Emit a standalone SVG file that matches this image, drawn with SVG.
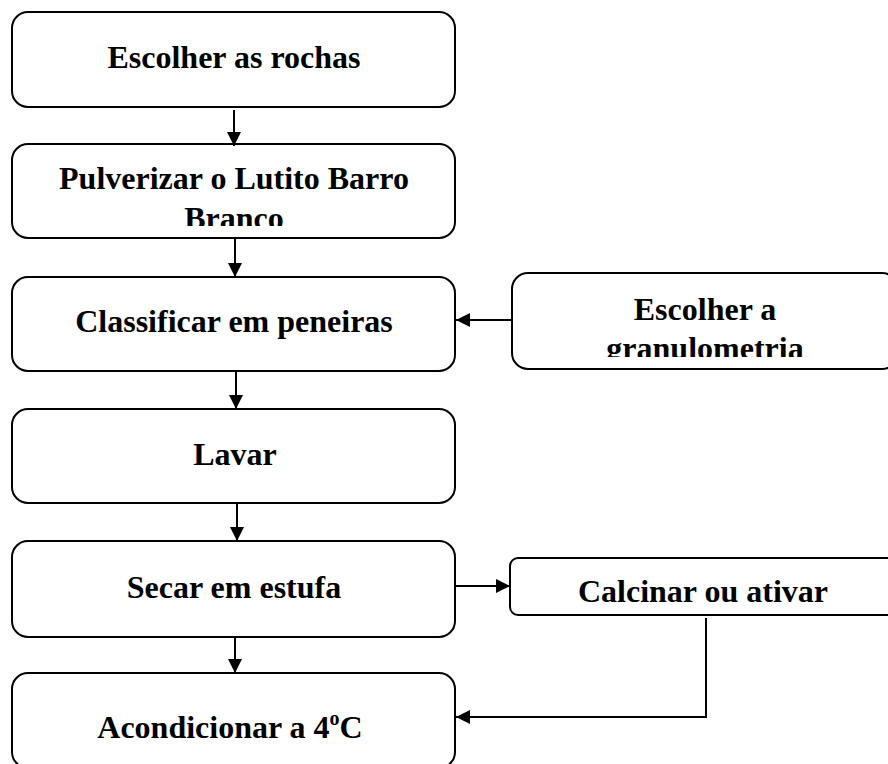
<svg xmlns="http://www.w3.org/2000/svg" width="888" height="764" viewBox="0 0 888 764">
<style>
.box{fill:#fff;stroke:#000;stroke-width:2}
.t{font-family:"Liberation Serif","Times New Roman",serif;font-weight:bold;font-size:32px;fill:#000;text-anchor:middle}
.c{fill:none;stroke:#000;stroke-width:2}
</style>
<defs>
<marker id="ah" viewBox="0 0 10 10" refX="10" refY="5" markerWidth="14" markerHeight="14" markerUnits="userSpaceOnUse" orient="auto">
<path d="M0,0 L10,5 L0,10 Z" fill="#000"/>
</marker>
<clipPath id="clipB"><rect x="12" y="144" width="443" height="82"/></clipPath>
<clipPath id="clipG"><rect x="512" y="273" width="386" height="84"/></clipPath>
</defs>
<g id="n1"><rect class="box" x="12" y="12" width="443" height="95" rx="16"/><text class="t" x="234" y="68">Escolher as rochas</text></g>
<g id="n2"><rect class="box" x="12" y="144" width="443" height="94" rx="16"/><g clip-path="url(#clipB)"><text class="t" x="234" y="189">Pulverizar o Lutito Barro</text><text class="t" x="234" y="229">Branco</text></g></g>
<g id="n3"><rect class="box" x="12" y="277" width="443" height="94" rx="16"/><text class="t" x="234" y="332">Classificar em peneiras</text></g>
<g id="n4"><rect class="box" x="12" y="409" width="443" height="94" rx="16"/><text class="t" x="235" y="465">Lavar</text></g>
<g id="n5"><rect class="box" x="12" y="541" width="443" height="96" rx="16"/><text class="t" x="234" y="598">Secar em estufa</text></g>
<g id="n6"><rect class="box" x="12" y="673" width="443" height="95" rx="16"/><text class="t" x="230" y="738">Acondicionar a 4<tspan font-size="20" dy="-13">o</tspan><tspan dy="13">C</tspan></text></g>
<g id="n7"><rect class="box" x="512" y="273" width="386" height="96" rx="16"/><g clip-path="url(#clipG)"><text class="t" x="705" y="320">Escolher a</text><text class="t" x="705" y="359">granulometria</text></g></g>
<g id="n8"><rect class="box" x="510" y="558" width="388" height="57" rx="8"/><text class="t" x="703" y="602">Calcinar ou ativar</text></g>
<g id="connectors">
<line class="c" x1="234" y1="110" x2="234" y2="146" marker-end="url(#ah)"/>
<line class="c" x1="235" y1="238" x2="235" y2="277" marker-end="url(#ah)"/>
<line class="c" x1="236" y1="371" x2="236" y2="409" marker-end="url(#ah)"/>
<line class="c" x1="237" y1="503" x2="237" y2="541" marker-end="url(#ah)"/>
<line class="c" x1="235" y1="637" x2="235" y2="673" marker-end="url(#ah)"/>
<line class="c" x1="512" y1="320" x2="456" y2="320" marker-end="url(#ah)"/>
<line class="c" x1="455" y1="586" x2="510" y2="586" marker-end="url(#ah)"/>
<polyline class="c" points="706,618 706,717 456,717" marker-end="url(#ah)"/>
</g>
</svg>
